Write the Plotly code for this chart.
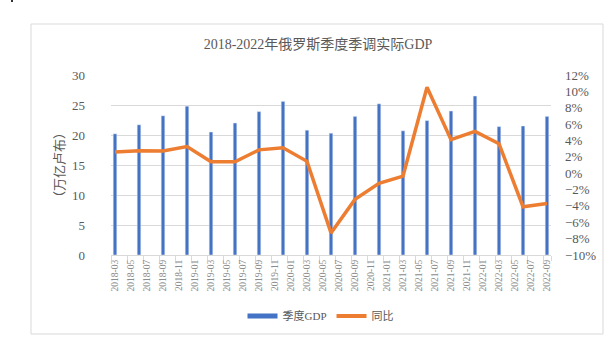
import plotly.graph_objects as go

# Quarterly seasonally adjusted real GDP of Russia (trillion rubles) and YoY growth (%)
quarters = ["2018-03", "2018-06", "2018-09", "2018-12",
            "2019-03", "2019-06", "2019-09", "2019-12",
            "2020-03", "2020-06", "2020-09", "2020-12",
            "2021-03", "2021-06", "2021-09", "2021-12",
            "2022-03", "2022-06", "2022-09"]
gdp = [20.2, 21.7, 23.2, 24.8,
       20.5, 22.0, 23.9, 25.6,
       20.8, 20.3, 23.1, 25.2,
       20.7, 22.4, 24.0, 26.5,
       21.4, 21.5, 23.1]
yoy = [2.6, 2.75, 2.7, 3.25,
       1.4, 1.4, 2.85, 3.1,
       1.45, -7.3, -3.2, -1.25,
       -0.35, 10.5, 4.1, 5.1,
       3.6, -4.1, -3.7]

# Monthly category axis from 2018-03 to 2022-09, labelled every two months
months = []
y, m = 2018, 3
while (y, m) <= (2022, 9):
    months.append(f"{y}-{m:02d}")
    m += 1
    if m > 12:
        y, m = y + 1, 1
tick_months = months[::2]

gdp_name = "季度GDP"
yoy_name = "同比"
title_text = "2018-2022年俄罗斯季度季调实际GDP"
left_title = "（万亿卢布）"

BLUE = "#4472C4"
ORANGE = "#ED7D31"
TXT = "#595959"
GRID = "#D9D9D9"
NUM_FONT = "Liberation Serif, Noto Sans CJK SC, serif"

fig = go.Figure()

fig.add_trace(go.Bar(
    x=quarters, y=gdp, name=gdp_name, marker_color=BLUE,
    width=0.45, showlegend=False, yaxis="y",
))
fig.add_trace(go.Scatter(
    x=quarters, y=yoy, name=yoy_name, mode="lines",
    line=dict(color=ORANGE, width=3.5), yaxis="y2", showlegend=False,
))

# Legend entries drawn as short thick strokes
fig.add_trace(go.Scatter(x=[None], y=[None], mode="lines", name=gdp_name,
                         line=dict(color=BLUE, width=5), yaxis="y"))
fig.add_trace(go.Scatter(x=[None], y=[None], mode="lines", name=yoy_name,
                         line=dict(color=ORANGE, width=4), yaxis="y2"))

fig.update_layout(
    width=612, height=349,
    margin=dict(l=111, r=61, t=75, b=94),
    paper_bgcolor="white", plot_bgcolor="white",
    title=dict(text=title_text, x=318 / 612, xanchor="center",
               y=1 - 44 / 349, yanchor="middle",
               font=dict(family=NUM_FONT, size=14, color=TXT)),
    xaxis=dict(
        type="category", categoryorder="array", categoryarray=months,
        range=[-0.5, len(months) - 0.5],
        tickmode="array", tickvals=tick_months, ticktext=tick_months,
        tickangle=-90, tickson="boundaries",
        ticks="outside", ticklen=5, tickcolor=GRID,
        showline=True, linecolor=GRID, linewidth=1,
        showgrid=False,
        tickfont=dict(family=NUM_FONT, size=9.5, color="#8C8C8C"),
    ),
    yaxis=dict(
        range=[0, 30], dtick=5, showgrid=True, gridcolor=GRID, gridwidth=1,
        zeroline=False, showline=False, ticks="",
        ticklabelstandoff=25,
        tickfont=dict(family=NUM_FONT, size=13, color=TXT),
        title=dict(text=left_title, standoff=4,
                   font=dict(family="Noto Sans CJK SC", size=13, color=TXT)),
    ),
    yaxis2=dict(
        overlaying="y", side="right", range=[-10, 12], dtick=2,
        ticksuffix="%", showgrid=False, zeroline=False, showline=False,
        ticklabelstandoff=13,
        tickfont=dict(family=NUM_FONT, size=13, color=TXT),
    ),
    legend=dict(orientation="h", x=(321 - 111) / 440, xanchor="center",
                y=(255 - 316) / 180, yanchor="middle",
                font=dict(family=NUM_FONT, size=11, color=TXT),
                itemwidth=30, bgcolor="rgba(0,0,0,0)"),
    bargap=0.5,
    shapes=[
        dict(type="rect", xref="paper", yref="paper",
             x0=(31 - 111) / 440, x1=(603 - 111) / 440,
             y0=(255 - 334) / 180, y1=(255 - 24) / 180,
             line=dict(color=GRID, width=1), fillcolor="rgba(0,0,0,0)",
             layer="below"),
        dict(type="rect", xref="paper", yref="paper",
             x0=(11 - 111) / 440, x1=(13 - 111) / 440,
             y0=(255 - 2) / 180, y1=255 / 180,
             line=dict(width=0), fillcolor="#333333", layer="below"),
    ],
)

fig.write_html("out.html")
